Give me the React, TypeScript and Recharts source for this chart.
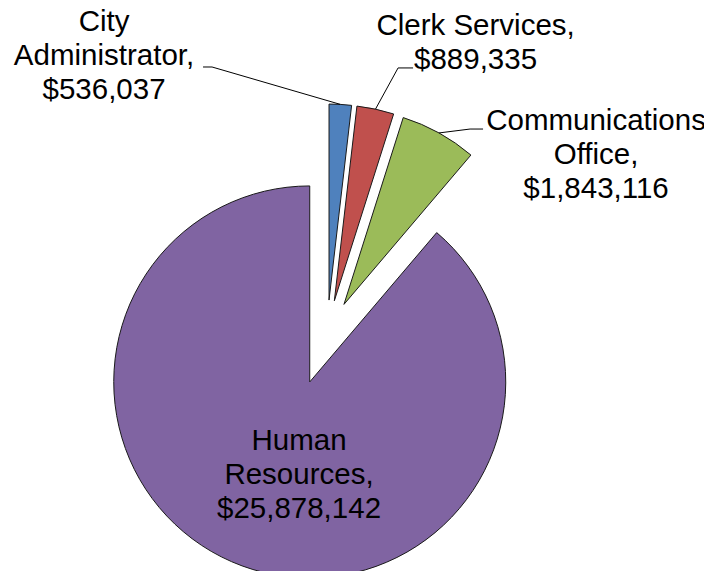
import React from 'react';
import { PieChart, Pie, Cell } from 'recharts';

// ---- data ----
const categories = ['City Administrator', 'Clerk Services', 'Communications Office', 'Human Resources'];
const values = [536037, 889335, 1843116, 25878142];
const labelNameLines = [
  ['City', 'Administrator,'],
  ['Clerk Services,'],
  ['Communications', 'Office,'],
  ['Human', 'Resources,'],
];

// ---- styles / layout ----
const COLORS = ['#4F81BD', '#C0504D', '#9BBB59', '#8064A2'];
const W = 712;
const H = 579;
const CX = 327;
const CY = 335;
const R = 196;
const EXPLODE = [35, 35, 35, 50];
const FONT = '"Liberation Sans", Arial, sans-serif';
const FONT_SIZE = 29.5;
const LINE_H = 34;
// label layout relative to the slice's outer-arc midpoint
const LABEL_LAYOUT = [
  { tx: -236.3, ty: -72.9, leader: [[-128.3, -37.4], [-137.3, -37.4]] },
  { tx: 100.1, ty: -74.2, leader: [[22.6, -41.2], [37.6, -41.2]] },
  { tx: 157.1, ty: -2.9, leader: [[31.1, -3.9], [44.1, -3.9]] },
  { tx: 56.9, ty: -115.9, leader: null as null | number[][] },
];

const RAD = Math.PI / 180;
const total = values.reduce((a, b) => a + b, 0);

const slices = (() => {
  let cum = 0;
  return categories.map((name, i) => {
    const frac = values[i] / total;
    const start = 90 - cum * 360;
    const end = 90 - (cum + frac) * 360;
    cum += frac;
    const mid = (start + end) / 2;
    const dx = EXPLODE[i] * Math.cos(mid * RAD);
    const dy = -EXPLODE[i] * Math.sin(mid * RAD);
    const cx = CX + dx;
    const cy = CY + dy;
    const ax = cx + R * Math.cos(mid * RAD);
    const ay = cy - R * Math.sin(mid * RAD);
    return { name, value: values[i], start, end, cx, cy, ax, ay };
  });
})();

const fmt = (v: number) => '$' + v.toLocaleString('en-US');

const makeLabel = (i: number) => () => {
  const s = slices[i];
  const lay = LABEL_LAYOUT[i];
  const lines = [...labelNameLines[i], fmt(values[i])];
  const tx = s.ax + lay.tx;
  const ty = s.ay + lay.ty;
  return (
    <g key={`lbl-${i}`}>
      {lay.leader && (
        <polyline
          points={[[0, 0], ...lay.leader].map(([x, y]) => `${s.ax + x},${s.ay + y}`).join(' ')}
          fill="none"
          stroke="#000"
          strokeWidth={1}
        />
      )}
      <text x={tx} y={ty} textAnchor="middle" fontFamily={FONT} fontSize={FONT_SIZE} fill="#000">
        {lines.map((ln, k) => (
          <tspan key={k} x={tx} y={ty + k * LINE_H}>
            {ln}
          </tspan>
        ))}
      </text>
    </g>
  );
};

export default function App() {
  return (
    <div style={{ width: W, height: H, margin: -8, background: '#fff' }}>
      <PieChart width={W} height={H} margin={{ top: 0, right: 0, bottom: 0, left: 0 }}>
        {slices.map((s, i) => (
          <Pie
            key={s.name}
            data={[{ name: s.name, value: s.value }]}
            dataKey="value"
            nameKey="name"
            cx={s.cx}
            cy={s.cy}
            innerRadius={0}
            outerRadius={R}
            startAngle={s.start}
            endAngle={s.end}
            stroke="#1a1a1a"
            strokeWidth={1}
            isAnimationActive={false}
            label={makeLabel(i)}
            labelLine={false}
          >
            <Cell fill={COLORS[i]} />
          </Pie>
        ))}
      </PieChart>
    </div>
  );
}
